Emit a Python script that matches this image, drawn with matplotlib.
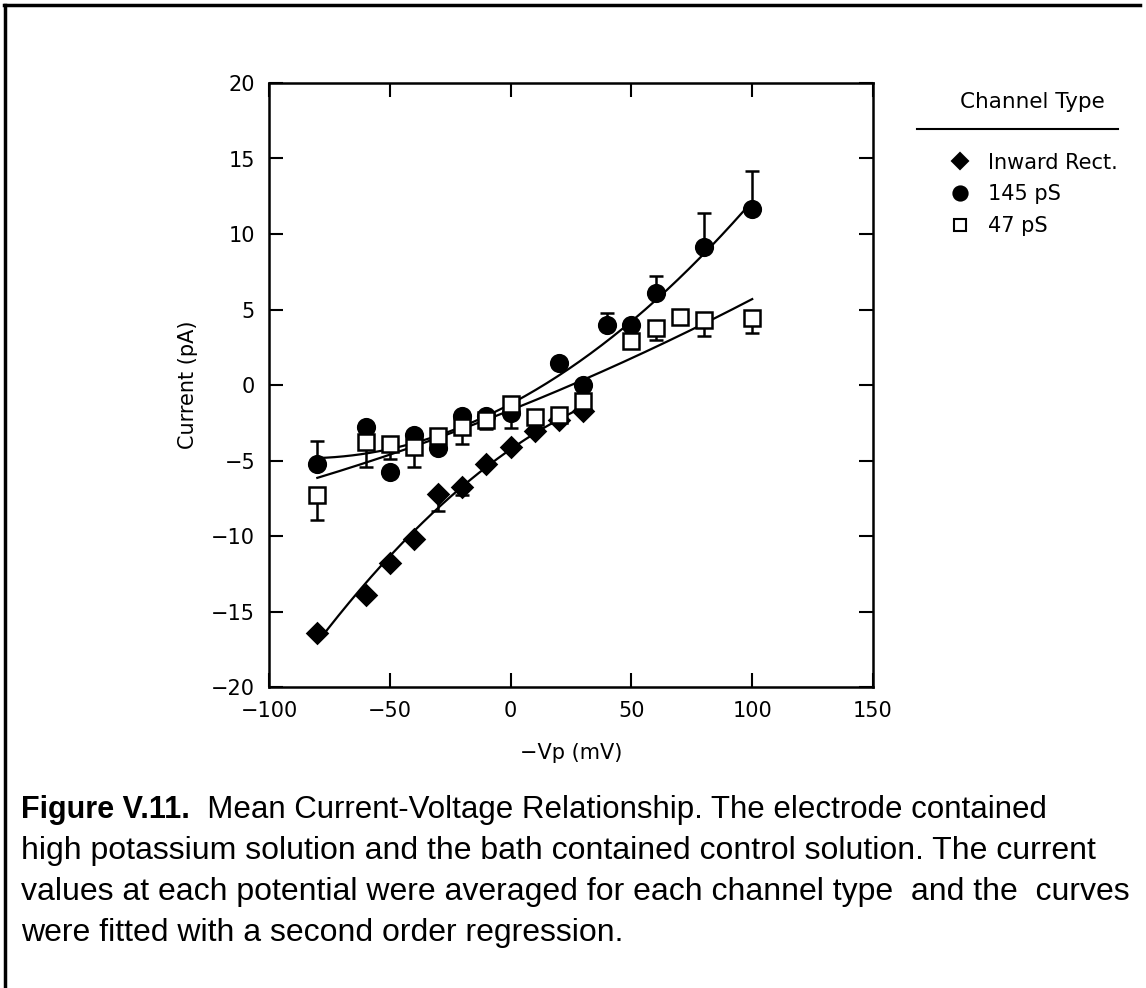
import numpy as np
import matplotlib
matplotlib.use("Agg")
import matplotlib.pyplot as plt
from matplotlib.lines import Line2D

# data
# Inward rectifier
ir_v = [-80, -60, -50, -40, -30, -20, -10, 0, 10, 20, 30]
ir_i = [-16.4, -13.9, -11.8, -10.2, -7.2, -6.75, -5.2, -4.1, -3.05, -2.35, -1.75]
ir_lo = [0, 0, 0, 0, 1.15, 0.55, 0, 0, 0, 0, 0]
ir_hi = [0, 0, 0, 0, 0, 0, 0, 0, 0, 0, 0]

# 145 pS
big_v = [-80, -60, -50, -40, -30, -20, -10, 0, 20, 30, 40, 50, 60, 80, 100]
big_i = [-5.2, -2.8, -5.75, -3.3, -4.2, -2.05, -2.05, -1.85, 1.45, 0.0, 3.97, 3.97, 6.1, 9.16, 11.65]
big_lo = [0, 0, 0, 0, 0, 0, 0.8, 0, 0, 0, 0, 0, 0, 0, 0]
big_hi = [1.5, 0, 0, 0, 0, 0, 0, 0, 0, 0, 0.8, 0, 1.15, 2.2, 2.55]

# 47 pS
small_v = [-80, -60, -50, -40, -30, -20, -10, 0, 10, 20, 30, 50, 60, 70, 80, 100]
small_i = [-7.3, -3.8, -3.9, -4.1, -3.35, -2.8, -2.3, -1.25, -2.15, -2.0, -1.05, 2.93, 3.75, 4.52, 4.3, 4.46]
small_lo = [1.65, 1.6, 1.0, 1.3, 0, 1.1, 0.6, 1.6, 0, 0, 0, 0, 0.8, 0, 1.05, 1.0]
small_hi = [0] * 16

xticks = [-100, -50, 0, 50, 100, 150]
yticks = [-20, -15, -10, -5, 0, 5, 10, 15, 20]

caption_bold = "Figure V.11."
caption_rest = "  Mean Current-Voltage Relationship. The electrode contained"
caption_lines = [
    "high potassium solution and the bath contained control solution. The current",
    "values at each potential were averaged for each channel type  and the  curves",
    "were fitted with a second order regression.",
]

fig = plt.figure(figsize=(11.46, 9.88), dpi=100)
ax = fig.add_axes([269 / 1146, 1 - 687 / 988, 604 / 1146, 604 / 988])

series = [
    (ir_v, ir_i, ir_lo, ir_hi, "D", "black", 10, "Inward Rect."),
    (big_v, big_i, big_lo, big_hi, "o", "black", 12, "145 pS"),
    (small_v, small_i, small_lo, small_hi, "s", "white", 11, "47 pS"),
]

handles = []
for v, cur, lo, hi, mk, fc, ms, lab in series:
    v = np.array(v, dtype=float)
    cur = np.array(cur)
    lo = np.array(lo)
    hi = np.array(hi)
    has = (lo > 0) | (hi > 0)
    ax.errorbar(v[has], cur[has], yerr=[lo[has], hi[has]], fmt="none",
                ecolor="black", elinewidth=1.8, capsize=5, capthick=1.8, zorder=2)
    # second order regression curve
    coef = np.polyfit(v, cur, 2)
    xs = np.linspace(v.min(), v.max(), 200)
    ax.plot(xs, np.polyval(coef, xs), color="black", lw=1.6, zorder=1)
    ax.plot(v, cur, linestyle="none", marker=mk, markersize=ms,
            markerfacecolor=fc, markeredgecolor="black", markeredgewidth=1.8, zorder=3)
    handles.append(Line2D([], [], linestyle="none", marker=mk, markersize=ms * 0.85,
                          markerfacecolor=fc, markeredgecolor="black", markeredgewidth=1.5))

ax.set_xlim(-100, 150)
ax.set_ylim(-20, 20)
ax.set_xticks(xticks)
ax.set_yticks(yticks)
ax.tick_params(direction="in", length=10, width=1.5, top=True, right=True,
               labelsize=15, pad=10)
for s in ax.spines.values():
    s.set_linewidth(1.8)

ax.set_xlabel("\u2212Vp (mV)", fontsize=15)
ax.set_ylabel("Current (pA)", fontsize=15)
ax.xaxis.set_label_coords(0.5, -0.092)
ax.yaxis.set_label_coords(-0.117, 0.5)

leg = ax.legend(handles, [s[-1] for s in series], title="Channel Type",
                loc="upper left", bbox_to_anchor=(939 / 1146, 1 - 84 / 988),
                bbox_transform=fig.transFigure, frameon=False, fontsize=15,
                title_fontsize=15.5, handletextpad=0.75, labelspacing=0.57,
                handlelength=1.2, borderaxespad=0)
leg._legend_box.sep = 29
fig.add_artist(Line2D([917 / 1146, 1118 / 1146], [1 - 129 / 988, 1 - 129 / 988],
                      color="black", lw=1.5, transform=fig.transFigure))

# outer frame (top and left edges visible in the scan)
fig.add_artist(Line2D([4 / 1146, 1140 / 1146], [1 - 5 / 988, 1 - 5 / 988],
                      color="black", lw=2.5, transform=fig.transFigure))
fig.add_artist(Line2D([5 / 1146, 5 / 1146], [0, 1 - 5 / 988],
                      color="black", lw=2.5, transform=fig.transFigure))

# caption
cap_font = "Liberation Sans"
cap_size = 23
x0 = 21 / 1146
y_lines = [810, 851, 892, 933]
tb = fig.text(x0, 1 - y_lines[0] / 988, caption_bold, fontsize=22, fontweight="bold",
              family=cap_font, va="center", ha="left")
fig.canvas.draw()
bb = tb.get_window_extent().transformed(fig.transFigure.inverted())
fig.text(bb.x1, 1 - y_lines[0] / 988, caption_rest, fontsize=22.5, family=cap_font,
         va="center", ha="left")
for line, yp in zip(caption_lines, y_lines[1:]):
    fig.text(x0, 1 - yp / 988, line, fontsize=cap_size, family=cap_font, va="center", ha="left")

fig.savefig("out.png", dpi=100, facecolor="white")
